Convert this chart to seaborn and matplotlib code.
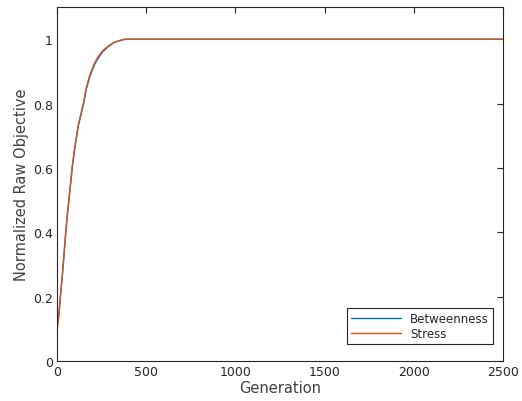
import matplotlib
matplotlib.use("Agg")
import matplotlib.pyplot as plt
import seaborn as sns
import pandas as pd

generation = [0, 2, 5, 8, 12, 21, 30, 40, 50, 60, 75, 86, 100, 120, 150, 165, 185, 210, 230, 258, 290, 320, 350, 382, 2500]
betweenness = [0.04, 0.11, 0.12, 0.13, 0.15, 0.21, 0.26, 0.33, 0.40, 0.46, 0.54, 0.60, 0.66, 0.73, 0.80, 0.845, 0.885, 0.92, 0.94, 0.962, 0.978, 0.99, 0.995, 1.0, 1.0]
stress = [0.03, 0.10, 0.115, 0.125, 0.15, 0.21, 0.265, 0.335, 0.405, 0.465, 0.545, 0.605, 0.665, 0.735, 0.805, 0.85, 0.89, 0.925, 0.945, 0.965, 0.98, 0.99, 0.996, 1.0, 1.0]

df = pd.concat([
    pd.DataFrame({"Generation": generation, "value": betweenness, "series": "Betweenness"}),
    pd.DataFrame({"Generation": generation, "value": stress, "series": "Stress"}),
])

sns.set_style("white")
plt.rcParams["font.family"] = ["DejaVu Sans"]

fig = plt.figure(figsize=(5.22, 4.02), dpi=100)
ax = fig.add_axes([0.109, 0.0995, 0.855, 0.8805])
sns.lineplot(data=df, x="Generation", y="value", hue="series",
             palette={"Betweenness": "#0072BD", "Stress": "#D95319"},
             linewidth=1.0, ax=ax, estimator=None)

ax.set_xlim(0, 2500)
ax.set_ylim(0, 1.1)
ax.set_xticks([0, 500, 1000, 1500, 2000, 2500])
ax.set_yticks([0, 0.2, 0.4, 0.6, 0.8, 1])
ax.set_yticklabels(["0", "0.2", "0.4", "0.6", "0.8", "1"])
ax.set_xlabel("Generation", fontsize=10.5, color="#404040", labelpad=1)
ax.set_ylabel("Normalized Raw Objective", fontsize=10.5, color="#404040", labelpad=3)
ax.tick_params(direction="in", length=4, width=0.8, colors="#262626", labelsize=9,
               top=True, right=True, labelcolor="#262626", pad=3)
for s in ax.spines.values():
    s.set_color("#262626")
    s.set_linewidth(0.8)

leg = ax.legend(title=None, loc="lower right", fontsize=8.5, frameon=True, fancybox=False,
                edgecolor="#262626", borderpad=0.35, handlelength=4.2, labelspacing=0.2,
                bbox_to_anchor=(0.99, 0.03), framealpha=1)
leg.get_frame().set_linewidth(0.8)
for t in leg.get_texts():
    t.set_color("#262626")

fig.savefig("out.png", dpi=100)
